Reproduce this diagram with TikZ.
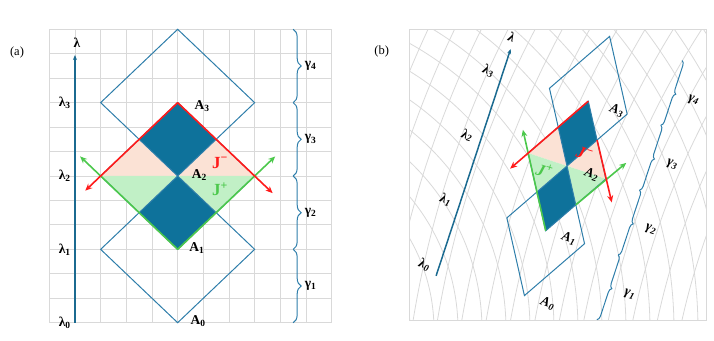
\documentclass[tikz,border=0pt]{standalone}
\usepackage{fontspec}
\setmainfont{Liberation Serif}
\usepackage{tikz}
\usetikzlibrary{arrows.meta}
\usetikzlibrary{decorations.pathreplacing}
\definecolor{gridgray}{HTML}{D9D9D9}
\definecolor{edgeblue}{HTML}{2E7EAA}
\definecolor{darkfill}{HTML}{0E729B}
\definecolor{axisblue}{HTML}{1B6A90}
\definecolor{pinkfill}{HTML}{FBE2D5}
\definecolor{greenfill}{HTML}{C1F0C6}
\definecolor{jred}{HTML}{FF1A1A}
\definecolor{jgreen}{HTML}{4CC84C}
\newcommand{\lamlab}[1]{\textbf{λ}\textsubscript{\textbf{#1}}}
\newcommand{\lamit}[1]{\textbf{\textit{λ}}\textsubscript{\textbf{\textit{#1}}}}
\newcommand{\gamlab}[1]{\textbf{γ}\textsubscript{\textbf{#1}}}
\newcommand{\gamit}[1]{\textbf{\textit{γ}}\textsubscript{\textbf{\textit{#1}}}}
\tikzset{
  gridline/.style={draw=gridgray, line width=0.9pt},
  cell/.style={draw=edgeblue, line width=1pt},
  jarrow/.style={line width=1.6pt, -{Stealth[length=7pt,width=6pt]}},
  axisline/.style={draw=axisblue, line width=1.5pt, -{Stealth[length=5pt,width=4pt]}},
  curly/.style={draw=edgeblue, line width=1pt, decorate, decoration={brace, amplitude=8pt}},
  lab/.style={inner sep=0pt, font=\fontsize{13.5}{15}\selectfont},
  jlab/.style={inner sep=0pt, font=\fontsize{17}{19}\selectfont},
  tag/.style={inner sep=0pt, font=\fontsize{12.5}{14}\selectfont}
}

\begin{document}
\begin{tikzpicture}
  \useasboundingbox (0,0) rectangle (714pt,340pt);

  % panel (a)
  \node[tag] (taga) at (17pt,288pt) {(a)};
  \begin{scope}[shift={(49.3pt,17.3pt)}, x=25.67pt, y=24.45pt]
    \foreach \i in {0,...,11} \draw[gridline] (\i,0) -- (\i,12);
    \foreach \j in {0,...,12} \draw[gridline] (0,\j) -- (11,\j);

    \coordinate (aA0) at (5,0);
    \coordinate (aA1) at (5,3);
    \coordinate (aA2) at (5,6);
    \coordinate (aA3) at (5,9);
    \coordinate (aL) at (2,6);
    \coordinate (aR) at (8,6);
    \coordinate (aUL) at (3.5,7.5);
    \coordinate (aUR) at (6.5,7.5);
    \coordinate (aDL) at (3.5,4.5);
    \coordinate (aDR) at (6.5,4.5);

    \fill[pinkfill] (aL) -- (aUL) -- (aA2) -- cycle (aA2) -- (aUR) -- (aR) -- cycle;
    \fill[greenfill] (aL) -- (aDL) -- (aA2) -- cycle (aA2) -- (aDR) -- (aR) -- cycle;
    \fill[darkfill] (aA3) -- (aUL) -- (aA2) -- (aUR) -- cycle;
    \fill[darkfill] (aA2) -- (aDL) -- (aA1) -- (aDR) -- cycle;
    \foreach \b in {0,3,6}
      \draw[cell] (5,\b) -- (2,\b+3) -- (5,\b+6) -- (8,\b+3) -- cycle;

    \coordinate (aGl) at (1.2,6.8);
    \coordinate (aGr) at (8.8,6.8);
    \coordinate (aRl) at (1.4,5.4);
    \coordinate (aRr) at (8.7,5.3);
    \draw[jarrow, jgreen] (aA1) -- (aGl);
    \draw[jarrow, jgreen] (aA1) -- (aGr);
    \draw[jarrow, jred] (aA3) -- (aRl);
    \draw[jarrow, jred] (aA3) -- (aRr);

    % lambda axis
    \coordinate (aX0) at (1,0);
    \coordinate (aX1) at (1,10.95);
    \draw[axisline] (aX0) -- (aX1);
    \node[lab] (alam) at (1.08,11.45) {\textbf{λ}};
    \foreach \i in {0,...,3}
      \node[lab] (alam\i) at (0.6,3*\i) {\lamlab{\i}};

    \node[lab] (aa0) at (5.8,0.05) {\textbf{A}\textsubscript{\textbf{0}}};
    \node[lab] (aa1) at (5.75,3.05) {\textbf{A}\textsubscript{\textbf{1}}};
    \node[lab] (aa2) at (5.85,6.05) {\textbf{A}\textsubscript{\textbf{2}}};
    \node[lab] (aa3) at (5.95,8.85) {\textbf{A}\textsubscript{\textbf{3}}};
    \node[jlab, text=jred] (ajm) at (6.65,6.55) {\textbf{J}\textsuperscript{\textbf{−}}};
    \node[jlab, text=jgreen] (ajp) at (6.65,5.45) {\textbf{J}\textsuperscript{\textbf{+}}};

    % braces
    \foreach \i/\t in {1/3,2/6,3/9,4/12} {
      \coordinate (agt\i) at (9.5,\t);
      \coordinate (agb\i) at (9.5,\t-3);
      \draw[curly] (agt\i) -- (agb\i);
      \node[lab, anchor=west] (agam\i) at (9.95,\t-1.5) {\gamlab{\i}};
    }
  \end{scope}

  % panel (b)
  \node[tag] (tagb) at (381.7pt,288.3pt) {(b)};
  \coordinate (bSW) at (409.3pt,19.3pt);
  \coordinate (bNE) at (706.7pt,310.7pt);
  \begin{scope}
    \clip (bSW) rectangle (bNE);
    \coordinate (pA) at (250pt,10pt);
    \coordinate (pB) at (1404pt,-143pt);
    \foreach \r in {160,184,...,560} \draw[gridline, line width=0.8pt] (pA) circle[radius=\r pt];
    \foreach \r in {716,740,...,1100} \draw[gridline, line width=0.8pt] (pB) circle[radius=\r pt];
  \end{scope}
  \draw[gridline] (bSW) rectangle (bNE);

  \begin{scope}[shift={(459.65pt,65.9pt)}, x={(12.95pt,-4.3pt)}, y={(7.1pt,21.6pt)}]
    \coordinate (bA0) at (5,0);
    \coordinate (bA1) at (5,3);
    \coordinate (bA2) at (5,6);
    \coordinate (bA3) at (5,9);
    \coordinate (bL) at (2,6);
    \coordinate (bR) at (8,6);
    \coordinate (bUL) at (3.5,7.5);
    \coordinate (bUR) at (6.5,7.5);
    \coordinate (bDL) at (3.5,4.5);
    \coordinate (bDR) at (6.5,4.5);

    \fill[pinkfill] (bL) -- (bUL) -- (bA2) -- cycle (bA2) -- (bUR) -- (bR) -- cycle;
    \fill[greenfill] (bL) -- (bDL) -- (bA2) -- cycle (bA2) -- (bDR) -- (bR) -- cycle;
    \fill[darkfill] (bA3) -- (bUL) -- (bA2) -- (bUR) -- cycle;
    \fill[darkfill] (bA2) -- (bDL) -- (bA1) -- (bDR) -- cycle;
    \foreach \b in {0,3,6}
      \draw[cell] (5,\b) -- (2,\b+3) -- (5,\b+6) -- (8,\b+3) -- cycle;

    \coordinate (bGl) at (1.1,6.9);
    \coordinate (bGr) at (9.05,6.95);
    \coordinate (bRl) at (1.1,5.1);
    \coordinate (bRr) at (8.95,5.1);
    \draw[jarrow, jgreen] (bA1) -- (bGl);
    \draw[jarrow, jgreen] (bDR) -- (bGr);
    \draw[jarrow, jred] (bA3) -- (bRl);
    \draw[jarrow, jred] (bUR) -- (bRr);

    % lambda axis
    \coordinate (bX0) at (-1.6,-0.4);
    \coordinate (bX1) at (-1.6,10.1);
    \draw[axisline] (bX0) -- (bX1);
    \node[lab, rotate=-18] (blam) at (-1.8,10.6) {\textbf{\textit{λ}}};
    \foreach \i in {0,...,3}
      \node[lab, rotate=-18] (blam\i) at (-2.65,3*\i-0.1) {\lamit{\i}};

    \node[lab, rotate=-18] (ba0) at (6.8,0) {\textbf{\textit{A}}\textsubscript{\textbf{\textit{0}}}};
    \node[lab, rotate=-18] (ba1) at (6.8,3) {\textbf{\textit{A}}\textsubscript{\textbf{\textit{1}}}};
    \node[lab, rotate=-18] (ba2) at (6.9,6) {\textbf{\textit{A}}\textsubscript{\textbf{\textit{2}}}};
    \node[lab, rotate=-18] (ba3) at (7.2,9) {\textbf{\textit{A}}\textsubscript{\textbf{\textit{3}}}};
    \node[jlab, rotate=-18, text=jred] (bjm) at (5.95,6.75) {\textbf{\textit{J}}\textsuperscript{\textbf{−}}};
    \node[jlab, rotate=-18, text=jgreen] (bjp) at (3.55,5.5) {\textbf{\textit{J}}\textsuperscript{\textbf{+}}};

    \foreach \i/\t in {1/3,2/6,3/9,4/12} {
      \coordinate (bgt\i) at (10.6,\t);
      \coordinate (bgb\i) at (10.6,\t-3);
      \node[lab, rotate=-18] (bgam\i) at (12.3,\t-1.5) {\gamit{\i}};
    }
  \end{scope}
  % braces of (b), drawn untransformed
  \foreach \i in {1,...,4}
    \draw[curly, decoration={amplitude=4.5pt}] (bgt\i) -- (bgb\i);
\end{tikzpicture}
\end{document}
